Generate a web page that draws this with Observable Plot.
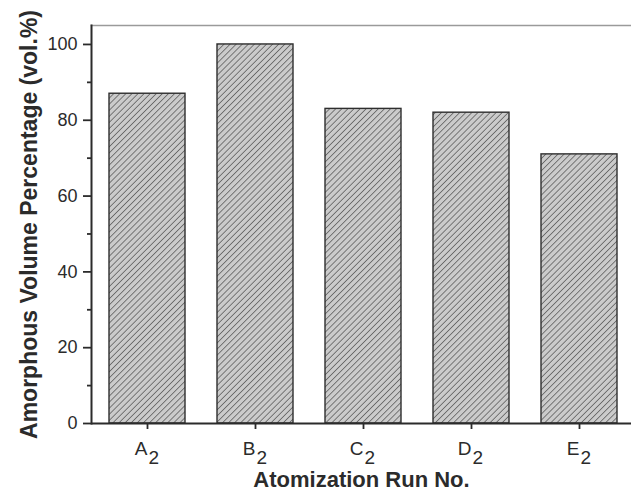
<!DOCTYPE html>
<html>
<head>
<meta charset="utf-8">
<script src="https://cdn.jsdelivr.net/npm/d3@7"></script>
<script src="https://cdn.jsdelivr.net/npm/@observablehq/plot@0.6"></script>
<style>
  html, body { margin: 0; padding: 0; background: #fff; }
  #chart svg { font-family: "Liberation Sans", Arial, sans-serif; }
  #chart [aria-label="x-axis label"] text,
  #chart [aria-label="y-axis label"] text { font-weight: bold; }
  #chart [aria-label="x-axis label"] text { font-size: 22px; }
  #chart [aria-label="y-axis label"] text { font-size: 23px; }
</style>
</head>
<body>
<div id="chart"></div>
<script>
// Atomization runs and their amorphous volume fraction (vol.%)
const runs = ["A", "B", "C", "D", "E"];
const runSubscript = "2";
const amorphous = [87, 100, 83, 82, 71];
const majorTicks = [0, 20, 40, 60, 80, 100];
const minorTicks = [10, 30, 50, 70, 90];

const rows = runs.map((run, i) => ({run, value: amorphous[i]}));

const axisColor = "#2b2b2b";

const chart = Plot.plot({
  width: 631,
  height: 492,
  marginLeft: 91,
  marginRight: 0,
  marginTop: 25,
  marginBottom: 69,
  style: {fontFamily: "'Liberation Sans', Arial, sans-serif", fontSize: "18px", color: axisColor, background: "#fff"},
  x: {domain: runs, range: [91, 634], paddingInner: 0.3, paddingOuter: 0.146, align: 0.5},
  y: {domain: [0, 105]},
  marks: [
    // hatched bars
    Plot.barY(rows, {x: "run", y: "value", fill: "url(#hatch)", stroke: "#2e2e2e", strokeWidth: 1.4}),
    // top border of the plot area
    Plot.frame({anchor: "top", stroke: "#9a9a9a", strokeWidth: 1.5}),
    // left axis line
    Plot.frame({anchor: "left", stroke: axisColor, strokeWidth: 2}),
    // bottom axis line
    Plot.ruleY([0], {stroke: axisColor, strokeWidth: 2}),
    Plot.axisY({
      ticks: majorTicks, tickSize: 8, tickPadding: 6, strokeWidth: 1.8, fontSize: 18,
      label: "Amorphous Volume Percentage (vol.%)", labelAnchor: "center",
      labelOffset: 71, labelArrow: "none"
    }),
    Plot.axisY({ticks: minorTicks, tickSize: 4, strokeWidth: 1.8, tickFormat: () => "", label: null}),
    Plot.axisX({
      tickSize: 6, strokeWidth: 1.8, tickFormat: () => "",
      label: "Atomization Run No.", labelAnchor: "center", labelOffset: 63, labelArrow: "none"
    }),
    // run letters with their subscript
    Plot.text(runs, {x: d => d, y: () => 0, text: d => d, textAnchor: "end", lineAnchor: "bottom", dx: 0, dy: 31, fontSize: 19, fill: axisColor}),
    Plot.text(runs, {x: d => d, y: () => 0, text: () => runSubscript, textAnchor: "start", lineAnchor: "bottom", dx: 1, dy: 40, fontSize: 19, fill: axisColor})
  ]
});

// diagonal hatch used as the bar fill
const svg = d3.select(chart);
const defs = svg.insert("defs", ":first-child");
const pat = defs.append("pattern")
  .attr("id", "hatch")
  .attr("patternUnits", "userSpaceOnUse")
  .attr("width", 4.3)
  .attr("height", 4.3)
  .attr("patternTransform", "rotate(45)");
pat.append("rect").attr("width", 4.3).attr("height", 4.3).attr("fill", "#cbcbcb");
pat.append("line").attr("x1", 0).attr("y1", 0).attr("x2", 0).attr("y2", 4.3)
  .attr("stroke", "#5a5a5a").attr("stroke-width", 1.5);

document.getElementById("chart").appendChild(chart);
</script>
</body>
</html>
